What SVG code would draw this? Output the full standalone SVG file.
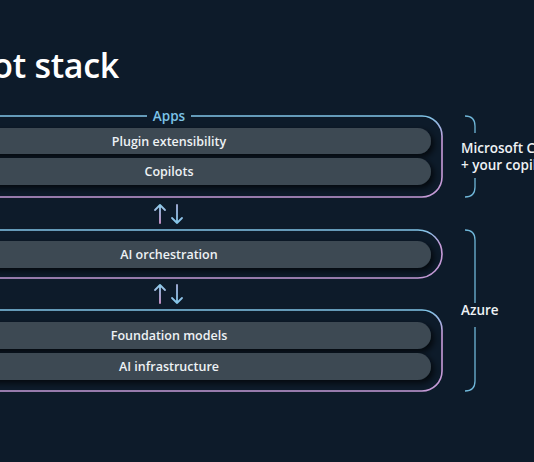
<svg xmlns="http://www.w3.org/2000/svg" width="534" height="462" viewBox="0 0 534 462">
  <defs>
    <linearGradient id="frame" x1="0" y1="0" x2="0" y2="1">
      <stop offset="0" stop-color="#80c5e8"/>
      <stop offset="0.3" stop-color="#c79bd9"/>
      <stop offset="1" stop-color="#c49ad6"/>
    </linearGradient>
    <linearGradient id="upg" x1="0" y1="0" x2="0" y2="1">
      <stop offset="0" stop-color="#8ccbea"/>
      <stop offset="1" stop-color="#d49ad0"/>
    </linearGradient>
    <linearGradient id="downg" x1="0" y1="0" x2="0" y2="1">
      <stop offset="0" stop-color="#a9b4e0"/>
      <stop offset="1" stop-color="#84c6e8"/>
    </linearGradient>
    <filter id="sh" x="-10%" y="-40%" width="120%" height="180%">
      <feDropShadow dx="3" dy="3" stdDeviation="3" flood-color="#000000" flood-opacity="0.7"/>
    </filter>
  </defs>
  <style>
    .frame { fill: none; stroke: url(#frame); stroke-width: 1.6; }
    .pill { fill: #3c4852; filter: url(#sh); }
    .pt { font-family: "Open Sans", "Noto Sans", sans-serif; font-weight: 600; font-size: 12.5px; fill: #eef2f5; text-anchor: middle; }
    .side { font-family: "Open Sans", "Noto Sans", sans-serif; font-weight: 600; font-size: 13.5px; fill: #eef2f5; }
    .br { fill: none; stroke: #6fb6d8; stroke-width: 1.3; }
    .arr { fill: none; stroke-width: 1.8; stroke-linecap: round; stroke-linejoin: round; }
  </style>
  <rect width="534" height="462" fill="#0d1b2a"/>
  <text x="119" y="78" font-family="'Open Sans', 'Noto Sans', sans-serif" font-weight="600" font-size="34" letter-spacing="-0.3" fill="#ffffff" text-anchor="end">Copilot stack</text>

  <g id="apps">
    <path class="frame" d="M147 116 H-40 M191 116 H422 A20 20 0 0 1 442 136 V177 A20 20 0 0 1 422 197 H-40"/>
    <text x="169" y="121" font-family="'Open Sans', 'Noto Sans', sans-serif" font-weight="600" font-size="13.5" fill="#7cc3e8" text-anchor="middle">Apps</text>
    <g id="plugin">
      <rect class="pill" x="-60" y="128" width="491" height="26" rx="13"/>
      <text class="pt" x="169" y="145.5">Plugin extensibility</text>
    </g>
    <g id="copilots">
      <rect class="pill" x="-60" y="158" width="491" height="27" rx="13.5"/>
      <text class="pt" x="169" y="176">Copilots</text>
    </g>
  </g>

  <g id="orchestration">
    <path class="frame" d="M-40 230 H418 A24 24 0 0 1 442 254 A24 24 0 0 1 418 278 H-40"/>
    <rect class="pill" x="-60" y="241" width="491" height="27" rx="13.5"/>
    <text class="pt" x="169" y="259">AI orchestration</text>
  </g>

  <g id="foundation">
    <path class="frame" d="M-40 310 H422 A20 20 0 0 1 442 330 V371 A20 20 0 0 1 422 391 H-40"/>
    <g id="models">
      <rect class="pill" x="-60" y="322" width="491" height="27" rx="13.5"/>
      <text class="pt" x="169" y="340">Foundation models</text>
    </g>
    <g id="infra">
      <rect class="pill" x="-60" y="353" width="491" height="27" rx="13.5"/>
      <text class="pt" x="169" y="371">AI infrastructure</text>
    </g>
  </g>

  <g id="connectors">
    <path class="arr" stroke="url(#upg)" d="M160 223 V205 M155 210 L160 205 L165 210"/>
    <path class="arr" stroke="url(#downg)" d="M177 205 V223 M172 218 L177 223 L182 218"/>
    <path class="arr" stroke="url(#upg)" d="M160 303 V285 M155 290 L160 285 L165 290"/>
    <path class="arr" stroke="url(#downg)" d="M177 285 V303 M172 298 L177 303 L182 298"/>
  </g>

  <g id="copilot-label">
    <path class="br" d="M465 116 Q475 116 475 126 V133 M475 178 V187 Q475 197 465 197"/>
    <text class="side" x="461" y="153">Microsoft Copilot</text>
    <text class="side" x="461" y="170">+ your copilots</text>
  </g>

  <g id="azure-label">
    <path class="br" d="M465 230 Q475 230 475 240 V303 M475 327 V381 Q475 391 465 391"/>
    <text class="side" x="461" y="315">Azure</text>
  </g>
</svg>
